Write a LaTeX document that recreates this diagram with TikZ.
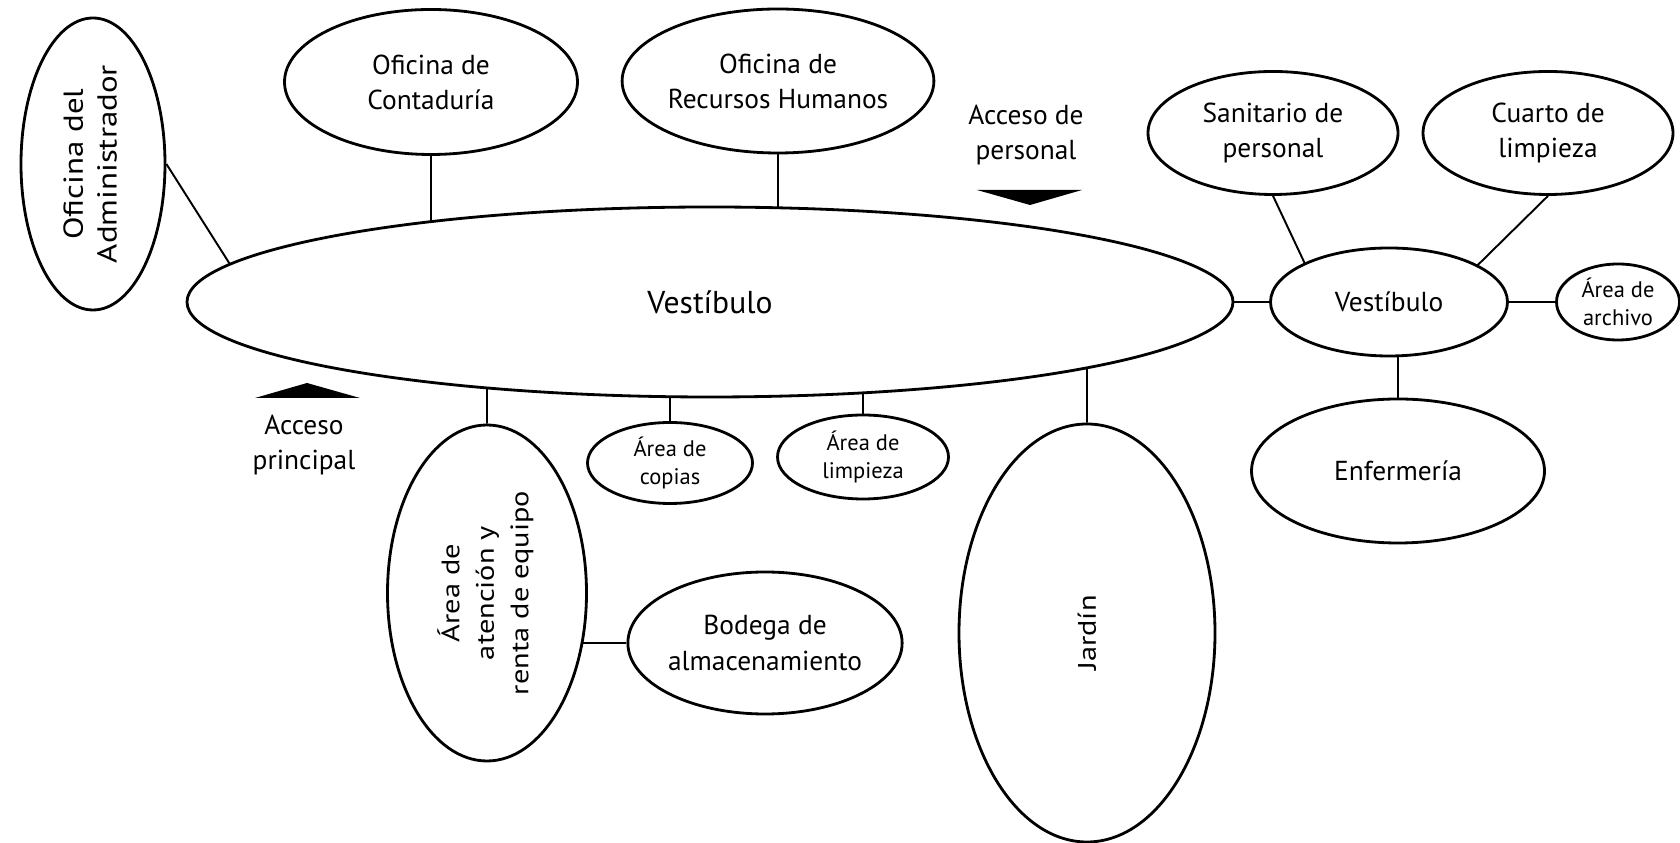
\documentclass[tikz,border=0pt]{standalone}
\usepackage{fontspec}
\setmainfont{PT Sans}
\newfontfamily\vertfont[FakeStretch=1.2]{PT Sans}
\usetikzlibrary{shapes.geometric,calc}
\begin{document}
\begin{tikzpicture}[every node/.style={font=\fontsize{7.8}{10}\selectfont},
  room/.style={ellipse,draw,line width=0.8pt,inner sep=0pt,align=center},
  small/.style={font=\fontsize{6.4}{8}\selectfont},
  upright/.style={font=\vertfont\fontsize{7.2}{9.8}\selectfont},
  link/.style={line width=0.55pt}]
\useasboundingbox (0,0) rectangle (16.8,8.43);
% main hall
\node[room,minimum width=10.46cm,minimum height=1.9cm,font=\fontsize{9}{11}\selectfont] (vest) at (7.10,5.41) {Vestíbulo};
% offices on top
\node[room,upright,font=\vertfont\fontsize{7.8}{9.6}\selectfont,minimum width=1.44cm,minimum height=2.92cm] (admin) at (0.93,6.79) {\rotatebox{90}{\begin{tabular}{@{}c@{}}Oficina del\\Administrador\end{tabular}}};
\node[room,minimum width=2.93cm,minimum height=1.45cm] (conta) at (4.31,7.61) {Oficina de\\Contaduría};
\node[room,minimum width=2.93cm,minimum height=1.44cm] (rrhh) at (7.78,7.62) {Oficina de\\Recursos Humanos};
% accesses
\node[align=center] (accper) at (10.26,7.08) {Acceso de\\personal};
\fill (9.77,6.53) -- (10.82,6.53) -- (10.30,6.38) -- cycle;
\node[align=center] (accpri) at (3.04,3.98) {Acceso\\principal};
\fill (2.55,4.45) -- (3.60,4.45) -- (3.07,4.60) -- cycle;
% rooms below
\node[room,upright,minimum width=1.99cm,minimum height=3.36cm] (atenc) at (4.87,2.50) {\rotatebox{90}{\begin{tabular}{@{}c@{}}Área de\\atención y\\renta de equipo\end{tabular}}};
\node[room,small,minimum width=1.65cm,minimum height=0.81cm] (copias) at (6.70,3.80) {Área de\\copias};
\node[room,small,minimum width=1.71cm,minimum height=0.84cm] (limp) at (8.63,3.86) {Área de\\limpieza};
\node[room,minimum width=2.62cm,minimum height=1.42cm] (bodega) at (7.65,2.00) {Bodega de\\almacenamiento};
\node[room,upright,minimum width=2.56cm,minimum height=4.18cm] (jardin) at (10.87,2.10) {\rotatebox{90}{Jardín}};
% staff wing
\node[room,minimum width=2.37cm,minimum height=1.08cm] (vest2) at (13.89,5.41) {Vestíbulo};
\node[room,minimum width=2.50cm,minimum height=1.23cm] (san) at (12.73,7.10) {Sanitario de\\personal};
\node[room,minimum width=2.50cm,minimum height=1.23cm] (cuarto) at (15.48,7.10) {Cuarto de\\limpieza};
\node[room,small,minimum width=1.23cm,minimum height=0.76cm] (arch) at (16.18,5.41) {Área de\\archivo};
\node[room,minimum width=2.93cm,minimum height=1.44cm] (enf) at (13.98,3.72) {Enfermería};
% joints on the borders
\coordinate (jadmin) at ($(vest.center)+(-4.80,0.377)$);
\coordinate (jconta) at ($(vest.center)+(-2.79,0.803)$);
\coordinate (jrrhh) at ($(vest.center)+(0.68,0.942)$);
\coordinate (jatenc) at ($(vest.center)+(-2.23,-0.859)$);
\coordinate (jcopias) at ($(vest.center)+(-0.40,-0.947)$);
\coordinate (jlimp) at ($(vest.center)+(1.53,-0.908)$);
\coordinate (jjardin) at ($(vest.center)+(3.77,-0.658)$);
\coordinate (jbodega) at ($(atenc.center)+(0.950,-0.50)$);
\coordinate (jsan) at ($(vest2.center)+(-0.84,0.381)$);
\coordinate (jcuarto) at ($(vest2.center)+(0.88,0.362)$);
% links
\draw[link] (admin.east) -- (jadmin);
\draw[link] (conta.south) -- (jconta);
\draw[link] (rrhh.south) -- (jrrhh);
\draw[link] (atenc.north) -- (jatenc);
\draw[link] (copias.north) -- (jcopias);
\draw[link] (limp.north) -- (jlimp);
\draw[link] (jardin.north) -- (jjardin);
\draw[link] (bodega.west) -- (jbodega);
\draw[link] (vest.east) -- (vest2.west);
\draw[link] (san.south) -- (jsan);
\draw[link] (cuarto.south) -- (jcuarto);
\draw[link] (vest2.east) -- (arch.west);
\draw[link] (enf.north) -- (enf.north |- vest2.south);
\end{tikzpicture}
\end{document}
